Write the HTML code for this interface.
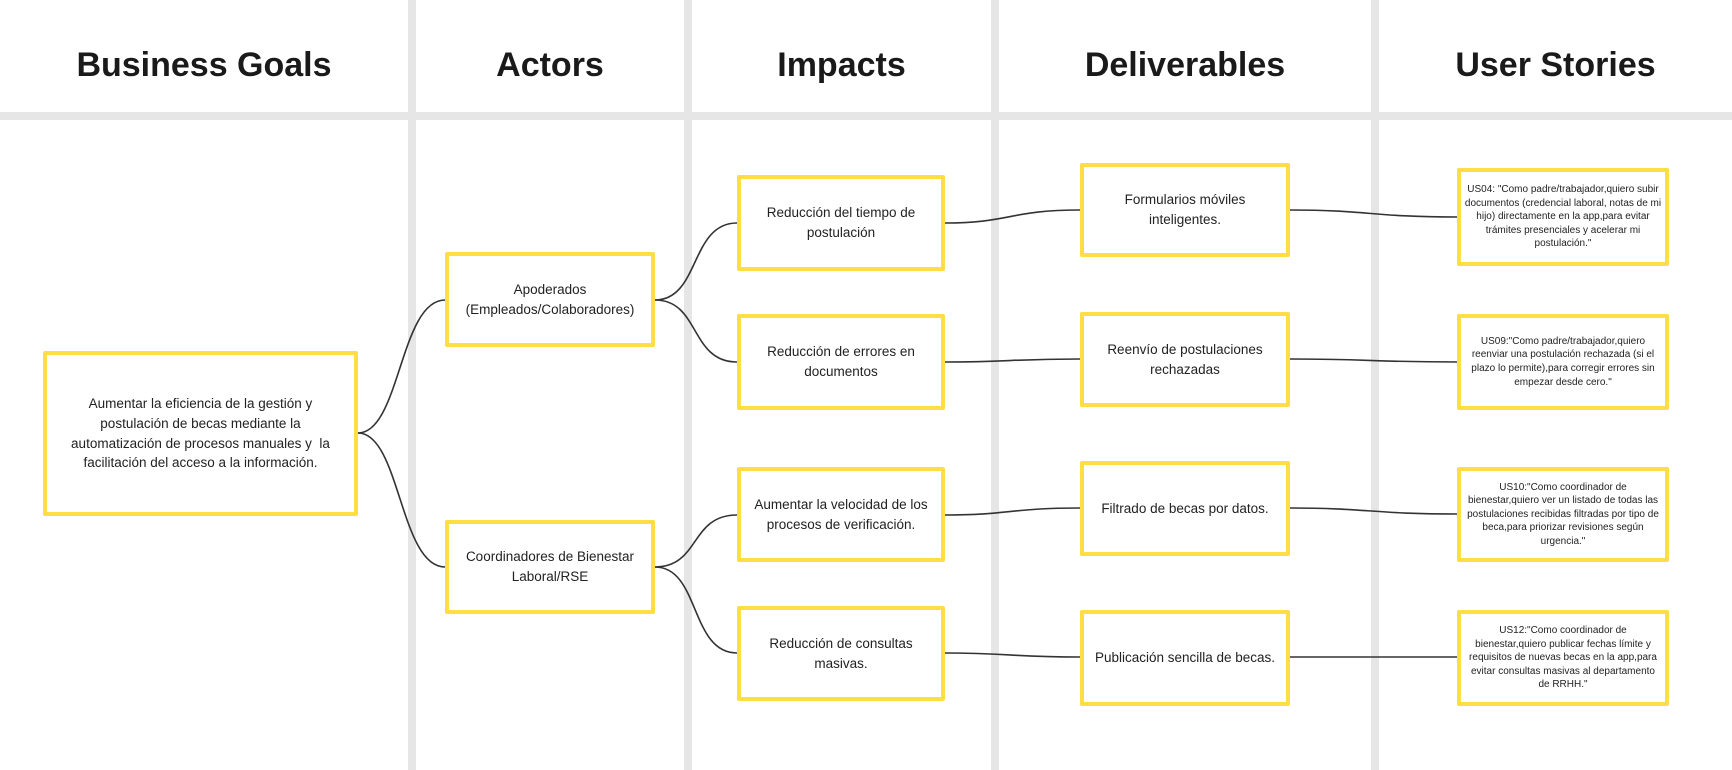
<!DOCTYPE html>
<html><head><meta charset="utf-8"><style>
body{margin:0;width:1732px;height:770px;background:#fff;overflow:hidden;position:relative;font-family:"Liberation Sans",sans-serif;}
.vl{position:absolute;top:0;width:8px;height:770px;background:#e6e6e6;}
.hb{position:absolute;left:0;top:112px;width:1732px;height:8px;background:#e6e6e6;}
.h{position:absolute;top:42px;height:46px;line-height:46px;text-align:center;font-weight:bold;font-size:34px;color:#1a1a1a;}
.b{position:absolute;box-sizing:border-box;border:4px solid #FFDD44;border-radius:2px;background:#fff;display:flex;align-items:center;justify-content:center;text-align:center;color:#222;font-size:13.5px;line-height:19.6px;}
.s{font-size:10px;line-height:13.6px;padding:0;white-space:nowrap;}
svg{position:absolute;left:0;top:0;}
</style></head><body>
<div class="vl" style="left:408px"></div>
<div class="vl" style="left:684px"></div>
<div class="vl" style="left:991px"></div>
<div class="vl" style="left:1371px"></div>
<div class="hb"></div>
<div class="h" style="left:0;width:408px">Business Goals</div>
<div class="h" style="left:416px;width:268px">Actors</div>
<div class="h" style="left:692px;width:299px">Impacts</div>
<div class="h" style="left:999px;width:372px">Deliverables</div>
<div class="h" style="left:1379px;width:353px">User Stories</div>
<svg width="1732" height="770" fill="none" stroke="#333" stroke-width="1.6">
<path d="M358 433 C400 433,400 300,445 300"/>
<path d="M358 433 C400 433,400 567,445 567"/>
<path d="M655 300 C700 300,690 223,737 223"/>
<path d="M655 300 C700 300,690 362,737 362"/>
<path d="M655 567 C700 567,690 515,737 515"/>
<path d="M655 567 C700 567,690 653,737 653"/>
<path d="M945 223 C1010 223,1010 210,1080 210"/>
<path d="M945 362 C1010 362,1010 359,1080 359"/>
<path d="M945 515 C1010 515,1010 508,1080 508"/>
<path d="M945 653 C1010 653,1010 657,1080 657"/>
<path d="M1290 210 C1370 210,1370 217,1459 217"/>
<path d="M1290 359 C1370 359,1370 362,1459 362"/>
<path d="M1290 508 C1370 508,1370 514,1459 514"/>
<path d="M1290 657 L1459 657"/>
</svg>
<div class="b" style="left:43px;top:351px;width:315px;height:165px">Aumentar la eficiencia de la gestión y<br>postulación de becas mediante la<br>automatización de procesos manuales y &nbsp;la<br>facilitación del acceso a la información.</div>
<div class="b" style="left:445px;top:252px;width:210px;height:95px">Apoderados<br>(Empleados/Colaboradores)</div>
<div class="b" style="left:445px;top:520px;width:210px;height:94px">Coordinadores de Bienestar<br>Laboral/RSE</div>
<div class="b" style="left:737px;top:175px;width:208px;height:96px">Reducción del tiempo de<br>postulación</div>
<div class="b" style="left:737px;top:314px;width:208px;height:96px">Reducción de errores en<br>documentos</div>
<div class="b" style="left:737px;top:467px;width:208px;height:95px">Aumentar la velocidad de los<br>procesos de verificación.</div>
<div class="b" style="left:737px;top:606px;width:208px;height:95px">Reducción de consultas<br>masivas.</div>
<div class="b" style="left:1080px;top:163px;width:210px;height:94px">Formularios móviles<br>inteligentes.</div>
<div class="b" style="left:1080px;top:312px;width:210px;height:95px">Reenvío de postulaciones<br>rechazadas</div>
<div class="b" style="left:1080px;top:461px;width:210px;height:95px">Filtrado de becas por datos.</div>
<div class="b" style="left:1080px;top:610px;width:210px;height:96px">Publicación sencilla de becas.</div>
<div class="b s" style="left:1457px;top:168px;width:212px;height:98px">US04: "Como padre/trabajador,quiero subir<br>documentos (credencial laboral, notas de mi<br>hijo) directamente en la app,para evitar<br>trámites presenciales y acelerar mi<br>postulación."</div>
<div class="b s" style="left:1457px;top:314px;width:212px;height:96px">US09:"Como padre/trabajador,quiero<br>reenviar una postulación rechazada (si el<br>plazo lo permite),para corregir errores sin<br>empezar desde cero."</div>
<div class="b s" style="left:1457px;top:467px;width:212px;height:95px">US10:"Como coordinador de<br>bienestar,quiero ver un listado de todas las<br>postulaciones recibidas filtradas por tipo de<br>beca,para priorizar revisiones según<br>urgencia."</div>
<div class="b s" style="left:1457px;top:610px;width:212px;height:96px">US12:"Como coordinador de<br>bienestar,quiero publicar fechas límite y<br>requisitos de nuevas becas en la app,para<br>evitar consultas masivas al departamento<br>de RRHH."</div>
</body></html>
